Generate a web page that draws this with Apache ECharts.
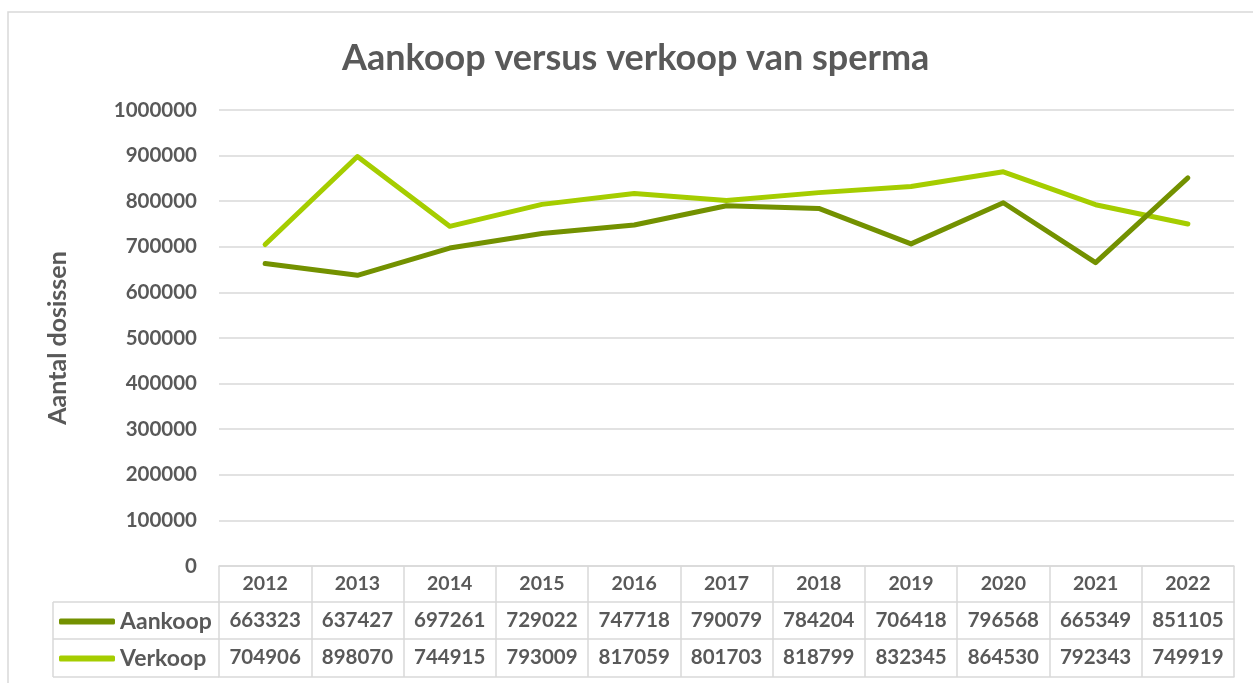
<!DOCTYPE html>
<html>
<head>
<meta charset="utf-8">
<script src="https://cdn.jsdelivr.net/npm/echarts@6/dist/echarts.min.js"></script>
<style>
  html, body { margin: 0; padding: 0; background: #fff; }
  #chart { width: 1253px; height: 683px; }
</style>
</head>
<body>
<div id="chart"></div>
<script>
// data
const years = ['2012', '2013', '2014', '2015', '2016', '2017', '2018', '2019', '2020', '2021', '2022'];
const aankoop = [663323, 637427, 697261, 729022, 747718, 790079, 784204, 706418, 796568, 665349, 851105];
const verkoop = [704906, 898070, 744915, 793009, 817059, 801703, 818799, 832345, 864530, 792343, 749919];
const yTicks = [0, 1000000, 100000]; // min, max, interval

const FONT = 'Lato';
const TXT = '#595959';
const BORDER = '#d9d9d9';
const DARK = '#739100';
const LIGHT = '#a5cd00';

const chart = echarts.init(document.getElementById('chart'));

// one table row = one extra x axis under the grid
function tableRow(offset, values, tickLen, fontSize, margin) {
  return {
    type: 'category',
    gridIndex: 0,
    position: 'bottom',
    offset: offset,
    data: years,
    axisLine: { show: true, lineStyle: { color: BORDER, width: 1.5 } },
    axisTick: { show: tickLen > 0, length: tickLen, interval: 0, lineStyle: { color: BORDER, width: 1.5 } },
    axisLabel: {
      show: !!values,
      interval: 0,
      margin: margin,
      fontFamily: FONT,
      fontWeight: 'bold',
      fontSize: fontSize,
      color: TXT,
      formatter: (v, i) => values ? String(values[i]) : ''
    },
    splitLine: { show: false }
  };
}

const legendText = { fontFamily: FONT, fontWeight: 'bold', fontSize: 23, color: TXT };

const option = {
  backgroundColor: '#fff',
  animation: false,
  title: {
    text: 'Aankoop versus verkoop van sperma',
    left: 337,
    top: 35,
    textStyle: { fontFamily: FONT, fontWeight: 'bold', fontSize: 36, color: TXT }
  },
  legend: [
    { data: ['Aankoop'], left: 54, top: 605, itemWidth: 56, itemHeight: 6, itemGap: 4, icon: 'roundRect', textStyle: legendText },
    { data: ['Verkoop'], left: 54, top: 642, itemWidth: 56, itemHeight: 6, itemGap: 4, icon: 'roundRect', textStyle: legendText }
  ],
  grid: { left: 219, right: 19, top: 110, bottom: 117, containLabel: false },
  xAxis: [
    tableRow(0, years, 36, 19.5, 8),
    tableRow(36, aankoop, 37, 20.5, 8),
    tableRow(73, verkoop, 38, 20.5, 8),
    tableRow(111, null, 0, 20, 8)
  ],
  yAxis: {
    type: 'value',
    min: yTicks[0],
    max: yTicks[1],
    interval: yTicks[2],
    name: 'Aantal dosissen',
    nameLocation: 'middle',
    nameGap: 149,
    nameRotate: 90,
    nameTextStyle: { fontFamily: FONT, fontWeight: 'bold', fontSize: 25, color: TXT },
    axisLine: { show: false },
    axisTick: { show: false },
    axisLabel: {
      margin: 22, fontFamily: FONT, fontWeight: 'bold', fontSize: 20.5, color: TXT,
      formatter: (v) => String(v)
    },
    splitLine: { lineStyle: { color: BORDER, width: 1.5 } }
  },
  series: [
    {
      name: 'Verkoop', type: 'line', data: verkoop, xAxisIndex: 0,
      symbol: 'none', z: 2,
      lineStyle: { color: LIGHT, width: 5, cap: 'round', join: 'round' },
      itemStyle: { color: LIGHT }
    },
    {
      name: 'Aankoop', type: 'line', data: aankoop, xAxisIndex: 0,
      symbol: 'none', z: 3,
      lineStyle: { color: DARK, width: 5, cap: 'round', join: 'round' },
      itemStyle: { color: DARK }
    }
  ],
  graphic: [
    // outer chart border
    { type: 'rect', shape: { x: 8, y: 12, width: 1260, height: 700 }, style: { fill: 'none', stroke: BORDER, lineWidth: 1.5 }, silent: true, z: -1 },
    // left column of the data table
    { type: 'line', shape: { x1: 53, y1: 602, x2: 219, y2: 602 }, style: { stroke: BORDER, lineWidth: 1.5 } },
    { type: 'line', shape: { x1: 53, y1: 639, x2: 219, y2: 639 }, style: { stroke: BORDER, lineWidth: 1.5 } },
    { type: 'line', shape: { x1: 53, y1: 677, x2: 219, y2: 677 }, style: { stroke: BORDER, lineWidth: 1.5 } },
    { type: 'line', shape: { x1: 53, y1: 602, x2: 53, y2: 677 }, style: { stroke: BORDER, lineWidth: 1.5 } }
  ]
};

option && chart.setOption(option);
</script>
</body>
</html>
